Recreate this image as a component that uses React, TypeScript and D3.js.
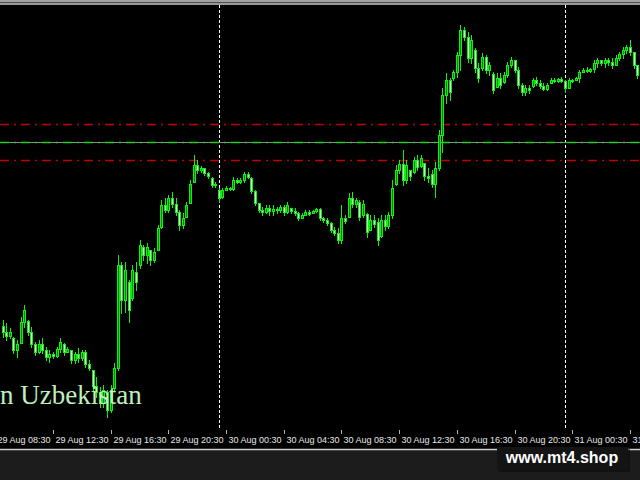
import React from "react";
import * as d3 from "d3";

// M15 candles, price in chart points
const opens = [
  124, 118, 114, 112, 100, 107, 128, 129, 118, 106,
  98, 106, 100, 93, 96, 94, 101, 106, 98, 100,
  90, 96, 92, 98, 86, 80, 64, 58, 47, 58,
  40, 62, 82, 185, 150, 168, 152, 178, 185, 203,
  195, 200, 190, 200, 223, 245, 240, 252, 246, 238,
  225, 233, 247, 268, 285, 280, 282, 277, 272, 265,
  260, 253, 260, 262, 261, 270, 268, 270, 276, 272,
  259, 247, 240, 238, 242, 239, 241, 240, 243, 238,
  242, 239, 237, 232, 235, 238, 237, 239, 241, 232,
  230, 227, 220, 217, 210, 232, 233, 252, 246, 248,
  235, 236, 220, 230, 228, 214, 230, 224, 235, 266,
  280, 286, 270, 280, 278, 290, 284, 287, 274, 276,
  266, 282, 315, 355, 370, 372, 378, 395, 420, 413,
  392, 400, 382, 382, 393, 380, 376, 363, 372, 368,
  375, 385, 390, 380, 365, 358, 362, 364, 370, 367,
  364, 361, 367, 370, 369, 371, 369, 362, 370, 370,
  372, 378, 380, 379, 381, 387, 390, 387, 390, 388,
  385, 392, 396, 400, 403, 398, 385,
];
const highs = [
  130, 127, 122, 113, 110, 133, 145, 130, 123, 108,
  110, 112, 103, 100, 98, 103, 112, 107, 103, 100,
  98, 102, 100, 100, 90, 80, 73, 63, 65, 60,
  65, 87, 195, 188, 188, 170, 185, 188, 210, 205,
  207, 200, 202, 225, 250, 252, 255, 258, 252, 240,
  237, 248, 270, 295, 290, 284, 282, 278, 273, 268,
  262, 262, 264, 263, 273, 272, 272, 278, 278, 273,
  260, 247, 243, 245, 245, 245, 243, 245, 245, 248,
  242, 242, 238, 237, 240, 240, 240, 242, 242, 233,
  232, 228, 223, 222, 245, 235, 257, 258, 252, 250,
  250, 237, 235, 235, 232, 235, 235, 238, 270, 285,
  290, 300, 290, 280, 293, 295, 295, 287, 282, 280,
  288, 320, 362, 377, 372, 380, 398, 425, 423, 418,
  415, 402, 387, 397, 395, 388, 378, 377, 377, 378,
  388, 393, 390, 383, 367, 365, 365, 372, 373, 370,
  367, 367, 372, 372, 372, 373, 370, 372, 371, 373,
  380, 382, 383, 382, 390, 392, 390, 392, 392, 392,
  395, 398, 403, 405, 410, 398, 385,
];
const lows = [
  113, 110, 112, 97, 93, 107, 123, 115, 103, 95,
  97, 97, 90, 88, 92, 93, 98, 95, 98, 87,
  87, 88, 90, 83, 80, 60, 53, 43, 43, 33,
  38, 60, 80, 137, 138, 128, 150, 160, 182, 190,
  187, 185, 188, 200, 222, 238, 238, 243, 235, 220,
  222, 233, 247, 268, 277, 278, 275, 272, 263, 263,
  248, 252, 260, 260, 260, 267, 267, 268, 272, 257,
  245, 238, 235, 237, 235, 235, 237, 238, 235, 237,
  237, 235, 230, 232, 235, 235, 237, 238, 230, 228,
  225, 218, 215, 207, 207, 227, 233, 243, 243, 230,
  233, 213, 220, 223, 205, 213, 220, 222, 232, 265,
  277, 265, 267, 270, 277, 280, 283, 270, 268, 263,
  253, 280, 298, 347, 350, 370, 373, 380, 410, 388,
  387, 378, 368, 380, 377, 375, 357, 363, 362, 367,
  373, 383, 378, 362, 355, 355, 357, 363, 365, 362,
  360, 360, 367, 368, 368, 368, 358, 363, 368, 370,
  368, 378, 378, 378, 378, 383, 385, 383, 385, 382,
  385, 390, 392, 397, 395, 382, 372,
];
const closes = [
  118, 114, 118, 100, 106, 128, 140, 118, 106, 98,
  106, 100, 93, 96, 94, 101, 108, 98, 101, 90,
  96, 92, 98, 86, 82, 64, 58, 47, 60, 40,
  60, 82, 185, 150, 180, 140, 180, 168, 205, 195,
  203, 190, 198, 222, 245, 240, 252, 246, 238, 225,
  232, 245, 266, 285, 280, 282, 277, 274, 265, 266,
  252, 260, 262, 261, 270, 268, 270, 276, 273, 259,
  247, 240, 238, 242, 239, 241, 240, 243, 238, 245,
  239, 237, 232, 235, 238, 236, 239, 241, 232, 230,
  227, 220, 217, 210, 232, 229, 252, 246, 250, 233,
  246, 218, 230, 226, 210, 230, 224, 235, 262, 280,
  286, 270, 285, 274, 290, 283, 292, 274, 272, 266,
  282, 315, 355, 370, 358, 378, 395, 420, 413, 392,
  410, 382, 372, 393, 380, 385, 360, 372, 365, 375,
  385, 390, 380, 365, 358, 362, 360, 370, 367, 364,
  361, 365, 370, 369, 371, 369, 362, 370, 369, 372,
  378, 380, 379, 381, 387, 390, 387, 390, 388, 385,
  392, 396, 400, 403, 398, 385, 375,
];

const tickLabels = [
  "29 Aug 08:30", "29 Aug 12:30", "29 Aug 16:30", "29 Aug 20:30",
  "30 Aug 00:30", "30 Aug 04:30", "30 Aug 08:30", "30 Aug 12:30",
  "30 Aug 16:30", "30 Aug 20:30", "31 Aug 00:30", "31 Aug 04:30",
];
const tickBars = [-2, 14, 30, 46, 62, 78, 94, 110, 126, 142, 158, 174];
const daySeparatorBars = [60, 156];
const resistanceLevel = 326;
const pivotLevel = 308;
const supportLevel = 290;

export default function App() {
  const W = 640;
  const H = 480;
  const plotBottom = 430;
  const n = closes.length;
  const x = d3.scaleLinear().domain([0, n - 1]).range([2.5, 2.5 + (n - 1) * 3.606]);
  const y = d3.scaleLinear().domain([0, 450]).range([450, 0]);
  const lime = "#10f010";

  const candles = d3.range(n).map((i) => {
    const px = Math.round(x(i));
    const o = opens[i], c = closes[i];
    const bull = c >= o;
    const top = Math.round(y(Math.max(o, c)));
    const bot = Math.round(y(Math.min(o, c)));
    return (
      <g key={i}>
        <line x1={px + 0.5} x2={px + 0.5} y1={Math.round(y(highs[i]))} y2={Math.round(y(lows[i])) + 1} stroke={lime} strokeWidth={1} />
        <rect x={px - 0.5} y={top + 0.5} width={2} height={Math.max(bot - top, 1)} fill={bull ? "#008800" : "#d8ffd8"} stroke={lime} strokeWidth={1} />
      </g>
    );
  });

  const dashDot = "9,5,2,5";

  return (
    <svg width={W} height={H} style={{ position: "fixed", left: 0, top: 0, display: "block" }} xmlns="http://www.w3.org/2000/svg">
      <rect x={0} y={0} width={W} height={H} fill="#000" />
      <rect x={0} y={450} width={W} height={30} fill="#1c1c1c" />
      <line x1={0} x2={W} y1={449.5} y2={449.5} stroke="#d0d0d0" strokeWidth={1.5} />
      <rect x={0} y={0} width={W} height={2} fill="#a0a0a0" />
      <rect x={0} y={2} width={W} height={1} fill="#505050" />
      <rect x={0} y={3} width={W} height={2} fill="#9a9a9a" />

      <defs>
        <clipPath id="plot">
          <rect x={0} y={5} width={W} height={plotBottom - 5} />
        </clipPath>
      </defs>

      <g clipPath="url(#plot)">
        {daySeparatorBars.map((b) => (
          <line key={b} x1={Math.round(x(b)) + 0.5} x2={Math.round(x(b)) + 0.5} y1={5} y2={plotBottom} stroke="#ffffff" strokeWidth={1} strokeDasharray="3,2" />
        ))}
        <line x1={0} x2={W} y1={Math.round(y(resistanceLevel)) + 0.5} y2={Math.round(y(resistanceLevel)) + 0.5} stroke="#c00000" strokeWidth={1.5} strokeDasharray={dashDot} />
        <line x1={0} x2={W} y1={Math.round(y(pivotLevel)) + 0.5} y2={Math.round(y(pivotLevel)) + 0.5} stroke="#8c8c8c" strokeWidth={1} />
        <line x1={0} x2={W} y1={Math.round(y(pivotLevel)) + 0.5} y2={Math.round(y(pivotLevel)) + 0.5} stroke="#22d022" strokeWidth={1.5} strokeDasharray={dashDot} />
        <line x1={0} x2={W} y1={Math.round(y(supportLevel)) + 0.5} y2={Math.round(y(supportLevel)) + 0.5} stroke="#c00000" strokeWidth={1.5} strokeDasharray={dashDot} />
        {candles}
      </g>

      <text x={0} y={404} fill="#bfeebf" fontFamily="'Liberation Serif', 'DejaVu Serif', serif" fontSize={27}>n Uzbekistan</text>

      {tickBars.map((b, k) => {
        const tx = Math.round(x(b)) + 0.5;
        return (
          <g key={k}>
            <line x1={tx} x2={tx} y1={plotBottom} y2={plotBottom + 4} stroke="#b0b0b0" strokeWidth={1} />
            <text x={tx + 2} y={443} fill="#e8e8e8" fontFamily="'Liberation Sans', Arial, sans-serif" fontSize={9}>{tickLabels[k]}</text>
          </g>
        );
      })}

      <rect x={499} y={449} width={131} height={23} fill="#0a0a0a" opacity={0.6} />
      <rect x={497} y={447} width={131} height={23} fill="#141414" />
      <text x={562} y={463} textAnchor="middle" fill="#ffffff" fontFamily="'Liberation Sans', Arial, sans-serif" fontWeight="bold" fontSize={16}>www.mt4.shop</text>
    </svg>
  );
}
